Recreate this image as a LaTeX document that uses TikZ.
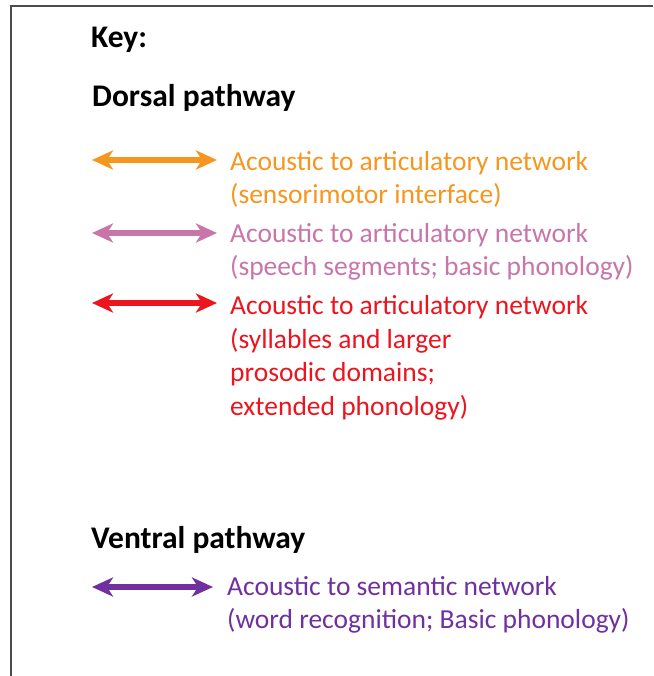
\documentclass[tikz,border=0pt]{standalone}
\usepackage{fontspec}
\setmainfont{Carlito}
\usepackage{tkz-euclide}
\usetikzlibrary{arrows.meta}

\definecolor{dorsalorange}{RGB}{246,150,30}
\definecolor{dorsalpink}{RGB}{200,118,170}
\definecolor{dorsalred}{RGB}{236,20,30}
\definecolor{ventralpurple}{RGB}{112,48,160}

\begin{document}
\begin{tikzpicture}[x=1pt,y=-1pt,
  keyarrow/.style={line width=5.5pt,
    {Stealth[length=21pt,width=19pt,inset=6pt]}-{Stealth[length=21pt,width=19pt,inset=6pt]}},
  heading/.style={anchor=base west,inner sep=0pt,font=\fontsize{31.5}{37}\selectfont\bfseries},
  keytext/.style={anchor=base west,inner sep=0pt,align=left,font=\fontsize{27.5}{33}\selectfont}]
\useasboundingbox (0,0) rectangle (653,676);

% frame
\draw[line width=2pt,black!70] (11,676) |- (653,6.5);

\node[heading] (key) at (91,48) {Key:};
\node[heading] (dorsal) at (92,107) {Dorsal pathway};
\node[heading] (ventral) at (91,548) {Ventral pathway};

% dorsal arrows
\tkzDefPoint(92,160){oL}
\tkzDefPoint(217,160){oR}
\tkzDrawSegment[keyarrow,dorsalorange](oL,oR)

\tkzDefPoint(92,233){pL}
\tkzDefPoint(217,233){pR}
\tkzDrawSegment[keyarrow,dorsalpink](pL,pR)

  \tkzDefPoint(92,303){rL}
  \tkzDefPoint(217,303){rR}
\tkzDrawSegment[keyarrow,dorsalred](rL,rR)

% base of a two line node is its last line
\node[keytext,dorsalorange] (sensori) at (230,204)
  {Acoustic to articulatory network\\(sensorimotor interface)};
\node[keytext,dorsalpink] (segments) at (230,275)
  {Acoustic to articulatory network\\(speech segments; basic phonology)};
\node[keytext,dorsalred,font=\fontsize{27.5}{33.5}\selectfont] (syllables) at (230,415)
  {Acoustic to articulatory network\\(syllables and larger\\prosodic domains;\\extended phonology)};

% ventral arrow
\tkzDefPoint(92,587){vL}
\tkzDefPoint(213,587){vR}
\tkzDrawSegment[keyarrow,ventralpurple](vL,vR)

\node[keytext,ventralpurple] (semantic) at (227,628)
  {Acoustic to semantic network\\(word recognition; Basic phonology)};

\end{tikzpicture}
\end{document}
